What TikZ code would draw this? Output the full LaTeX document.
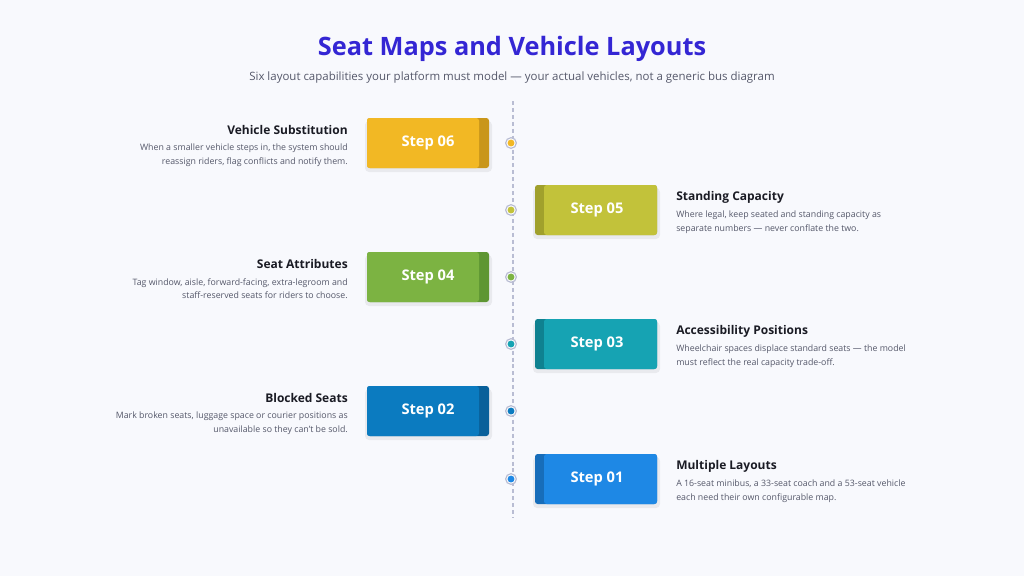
\documentclass[tikz,border=0pt]{standalone}
\usepackage{fontspec}
\setmainfont{Open Sans}
\usetikzlibrary{positioning}
\definecolor{bgc}{HTML}{F8F9FD}
\definecolor{titlec}{HTML}{3426D4}
\definecolor{subc}{HTML}{55586A}
\definecolor{headc}{HTML}{1A1B24}
\definecolor{descc}{HTML}{55586A}
\definecolor{linec}{HTML}{B9BDD3}
\definecolor{sixc}{HTML}{F2B824}\definecolor{sixd}{HTML}{C9961A}
\definecolor{fivec}{HTML}{C2C23A}\definecolor{fived}{HTML}{A0A02C}
\definecolor{fourc}{HTML}{7CB342}\definecolor{fourd}{HTML}{5E9632}
\definecolor{threec}{HTML}{16A3B3}\definecolor{threed}{HTML}{0F8190}
\definecolor{twoc}{HTML}{0B7BC0}\definecolor{twod}{HTML}{09609A}
\definecolor{onec}{HTML}{1E88E5}\definecolor{oned}{HTML}{176DBA}
\tikzset{
  steplabel/.style={text=white, font=\bfseries\fontsize{11}{13}\selectfont},
  dot/.style={circle, draw=linec, fill=white, line width=0.9pt, inner sep=0pt, minimum size=8pt},
  head/.style={font=\bfseries\fontsize{9}{11}\selectfont, text=headc, inner sep=0pt},
  desc/.style={font=\fontsize{6.6}{9.8}\selectfont, text=descc, inner sep=0pt, align=#1},
}
\begin{document}
\begin{tikzpicture}[x=0.75pt,y=-0.75pt]
\useasboundingbox[fill=bgc] (0,0) rectangle (1024,576);
\node[font=\bfseries\fontsize{19}{22}\selectfont, text=titlec] (title) at (512,49) {Seat Maps and Vehicle Layouts};
\node[font=\fontsize{8.6}{10}\selectfont, text=subc] (sub) at (512,77) {Six layout capabilities your platform must model — your actual vehicles, not a generic bus diagram};
\coordinate (top) at (513,101);
\coordinate (bot) at (513,518);
\draw[linec, line width=0.9pt, dash pattern=on 3pt off 2.2pt] (top) -- (bot);
% left-side steps
\foreach \n/\y/\c/\d/\h/\t in {
  06/143/sixc/sixd/Vehicle Substitution/{When a smaller vehicle steps in, the system should\\reassign riders, flag conflicts and notify them.},
  04/277/fourc/fourd/Seat Attributes/{Tag window, aisle, forward-facing, extra-legroom and\\staff-reserved seats for riders to choose.},
  02/411/twoc/twod/Blocked Seats/{Mark broken seats, luggage space or courier positions as\\unavailable so they can't be sold.}}{
  \fill[black, opacity=0.06, rounded corners=3pt] (365,\y-22) rectangle (492,\y+29);
  \fill[\d, rounded corners=2pt] (367,\y-25) rectangle (489,\y+25);
  \fill[\c, rounded corners=2pt] (367,\y-25) rectangle (479,\y+25);
  \node[steplabel] (s\n) at (428,\y) {Step \n};
  \node[dot] (d\n) at (511,\y) {};
  \fill[\c] (d\n) circle (2.6pt);
  \node[head, anchor=east] (h\n) at (348,\y-13) {\h};
  \node[desc=right, anchor=north east] (t\n) at (348,\y+1) {\t};
}
% right-side steps
\foreach \n/\y/\c/\d/\h/\t in {
  05/210/fivec/fived/Standing Capacity/{Where legal, keep seated and standing capacity as\\separate numbers — never conflate the two.},
  03/344/threec/threed/Accessibility Positions/{Wheelchair spaces displace standard seats — the model\\must reflect the real capacity trade-off.},
  01/479/onec/oned/Multiple Layouts/{A 16-seat minibus, a 33-seat coach and a 53-seat vehicle\\each need their own configurable map.}}{
  \fill[black, opacity=0.06, rounded corners=3pt] (533,\y-22) rectangle (660,\y+29);
  \fill[\d, rounded corners=2pt] (535,\y-25) rectangle (657,\y+25);
  \fill[\c, rounded corners=2pt] (544,\y-25) rectangle (657,\y+25);
  \node[steplabel] (s\n) at (597,\y) {Step \n};
  \node[dot] (d\n) at (511,\y) {};
  \fill[\c] (d\n) circle (2.6pt);
  \node[head, anchor=west] (h\n) at (676,\y-13) {\h};
  \node[desc=left, anchor=north west] (t\n) at (676,\y+1) {\t};
}
\end{tikzpicture}
\end{document}
